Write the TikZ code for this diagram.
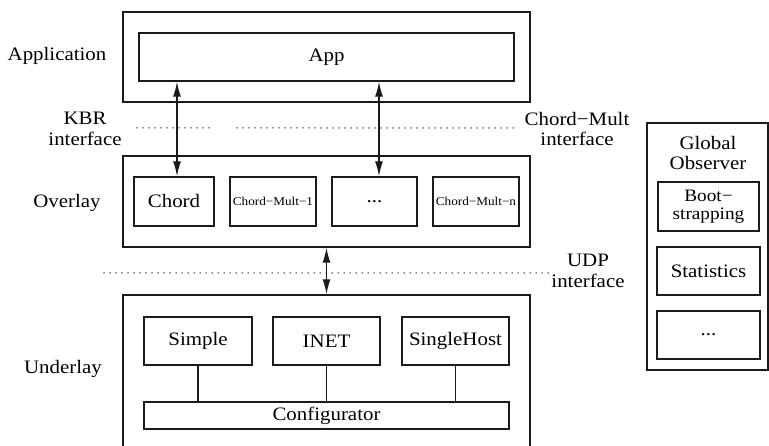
\documentclass[tikz,border=0pt]{standalone}
\usepackage{fontspec}
\setmainfont[FakeStretch=1.1]{Liberation Serif}
\usetikzlibrary{arrows.meta}
\definecolor{lineDark}{HTML}{1A1A1A}
\tikzset{
  layerBox/.style={draw=lineDark, line width=1.4pt, inner sep=0pt},
  modBox/.style={draw=lineDark, line width=1.4pt, inner sep=0pt, align=center},
  smallText/.style={font=\fontsize{12}{13}\selectfont},
  ifaceLine/.style={draw=lineDark, line width=1.5pt, line cap=round, dash pattern=on 0pt off 6pt},
  biArrow/.style={draw=lineDark, line width=1.4pt, {Latex[length=15pt,width=8pt]}-{Latex[length=15pt,width=8pt]}},
  wireLine/.style={draw=lineDark, line width=1.4pt},
}

\begin{document}
\begin{tikzpicture}[x=1pt, y=-1pt, font=\fontsize{19}{20.5}\selectfont]
  \clip (0,0) rectangle (769,446);
  \fill[white] (0,0) rectangle (769,446);

  % layers
  \node[layerBox, minimum width=407pt, minimum height=90pt] (appLayer) at (326.5,57) {};
  \node[layerBox, minimum width=407pt, minimum height=91pt] (ovLayer) at (326.5,201.5) {};
  \node[layerBox, minimum width=407pt, minimum height=170pt] (unLayer) at (326.5,380) {};
  \node[layerBox, minimum width=121pt, minimum height=247pt] (observer) at (707.5,246.5) {};

  \node (appLabel) at (57,56) {Application};
  \node (ovLabel) at (67,203) {Overlay};
  \node (unLabel) at (63,369) {Underlay};
  \node[align=center] (kbrLabel) at (85,129) {KBR\\interface};
  \node[align=center] (multLabel) at (577,129) {Chord−Mult\\interface};
  \node[align=center] (udpLabel) at (588,271) {UDP\\interface};
  \node[align=center] (obsLabel) at (708,153) {Global\\Observer};

  % modules
  \node[modBox, minimum width=375pt, minimum height=48pt] (app) at (326.5,57) {App};

  \node[modBox, minimum width=80pt, minimum height=49pt] (chord) at (174,201.5) {Chord};
  \node[modBox, smallText, minimum width=86pt, minimum height=49pt] (multOne) at (273,201.5) {Chord−Mult−1};
  \node[modBox, minimum width=85pt, minimum height=49pt] (multDots) at (374.5,201.5) {...};
  \node[modBox, smallText, minimum width=86pt, minimum height=49pt] (multN) at (476,201.5) {Chord−Mult−n};

  \node[modBox, minimum width=108pt, minimum height=48pt] (simple) at (198,341) {Simple};
  \node[modBox, minimum width=107pt, minimum height=48pt] (inet) at (326.5,341) {INET};
  \node[modBox, minimum width=107pt, minimum height=48pt] (single) at (455.5,341) {SingleHost};
  \node[modBox, minimum width=365pt, minimum height=27pt] (config) at (326.5,415.5) {Configurator};

  \node[modBox, font=\fontsize{17.5}{17.5}\selectfont, minimum width=101pt, minimum height=49pt] (boot) at (708.5,206.5) {Boot−\\strapping};
  \node[modBox, minimum width=103pt, minimum height=48pt] (stats) at (708.5,271) {Statistics};
  \node[modBox, minimum width=103pt, minimum height=48pt] (obsDots) at (708.5,335) {...};

  % interfaces
  \draw[ifaceLine] (137,128) -- (210,128);
  \draw[ifaceLine] (237,128) -- (517,128);
  \draw[ifaceLine] (104,273) -- (550,273);

  \draw[biArrow] ([xshift=3pt]chord.north) -- ([xshift=3pt]chord.north |- app.south);
  \draw[biArrow] ([xshift=4.5pt]multDots.north) -- ([xshift=4.5pt]multDots.north |- app.south);
  \draw[biArrow] (ovLayer.south) -- (unLayer.north);

  \draw[wireLine] (simple.south) -- (simple.south |- config.north);
  \draw[wireLine] (inet.south) -- (inet.south |- config.north);
  \draw[wireLine] (single.south) -- (single.south |- config.north);
\end{tikzpicture}
\end{document}
